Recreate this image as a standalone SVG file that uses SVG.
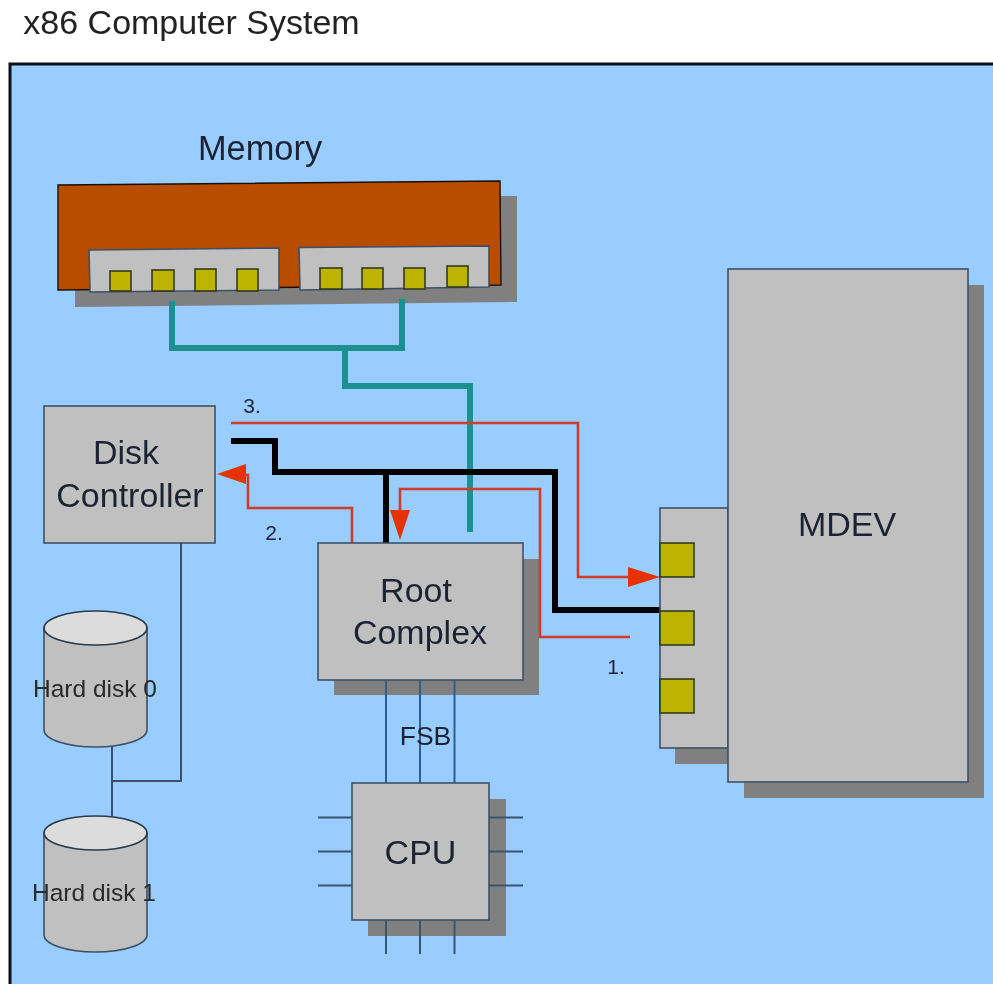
<svg xmlns="http://www.w3.org/2000/svg" width="993" height="984" viewBox="0 0 993 984">
<defs>
<style>
text{font-family:"Liberation Sans",Arial,sans-serif;fill:#1c2433;text-anchor:middle}
.box{fill:#c0c0c0;stroke:#3c5066;stroke-width:1.6}
.sh{fill:#808080}
.pad{fill:#bcb400;stroke:#333a20;stroke-width:1.6}
.wire{fill:none;stroke:#2f5f8f;stroke-width:2}
.wd{fill:none;stroke:#3a5068;stroke-width:2}
.red{fill:none;stroke:#d03c28;stroke-width:2.6}
.arr{fill:#e63300}
.blk{fill:none;stroke:#000;stroke-width:6}
.teal{fill:none;stroke:#1f9090;stroke-width:6}
</style>
<filter id="soft" filterUnits="userSpaceOnUse" x="0" y="0" width="993" height="984"><feGaussianBlur stdDeviation="0.5"/></filter>
</defs>
<rect width="993" height="984" fill="#fff"/>
<g filter="url(#soft)">
<text id="title" x="191.500" y="34" font-size="34" style="fill:#222">x86 Computer System</text>
<path d="M993 64H10V984H993Z" fill="#99ccff"/>
<path d="M993 64H10V984" fill="none" stroke="#0a0f18" stroke-width="3"/>
<g id="shadows">
<path class="sh" d="M75 196H517V302L75 307Z"/>
<rect class="sh" x="744" y="285" width="240" height="513"/>
<rect class="sh" x="675" y="524" width="70" height="240"/>
<rect class="sh" x="334" y="559" width="205" height="136"/>
<rect class="sh" x="368" y="799" width="138" height="137"/>
</g>
<g id="connectors">
<path class="teal" d="M172 301V348H402V299"/>
<path class="teal" d="M345 348V386H470V532"/>
<path class="wd" d="M181 543V781H112M112 746V816"/>
<path class="blk" d="M231 441H275V472H555V610H660M386 472V544"/>
<path class="red" d="M231 423H578V577H630"/>
<path class="red" d="M630 637H540V489H400V515"/>
<path class="red" d="M352 543V508H248V475H243"/>
<polygon class="arr" points="660,577 628,567 628,587"/>
<polygon class="arr" points="400,540 390,510 410,510"/>
<polygon class="arr" points="217,474 246,464 246,484"/>
<path class="wire" d="M386 680V783M420 680V783M454.500 680V783"/>
</g>
<g id="memory">
<text x="260" y="160" font-size="34.400">Memory</text>
<path d="M58 185L500 181L501 285L58 290Z" fill="#b84d00" stroke="#1a1000" stroke-width="1.4"/>
<path class="box" d="M89 250L279 248L279 290L90 292Z"/>
<path class="box" d="M299 247.500L489 246L489 287L300 290Z"/>
<rect class="pad" x="110" y="271" width="21" height="20"/>
<rect class="pad" x="152" y="270" width="22" height="21"/>
<rect class="pad" x="195" y="269" width="21" height="22"/>
<rect class="pad" x="237" y="269" width="21" height="22"/>
<rect class="pad" x="320" y="268" width="22" height="21"/>
<rect class="pad" x="362" y="268" width="21" height="21"/>
<rect class="pad" x="404" y="268" width="21" height="21"/>
<rect class="pad" x="447" y="266" width="21" height="21"/>
</g>
<g id="mdev">
<rect class="box" x="660" y="508" width="68" height="240"/>
<rect class="box" x="728" y="269" width="240" height="513"/>
<text x="847" y="536" font-size="34">MDEV</text>
<rect class="pad" x="660" y="543" width="34" height="34"/>
<rect class="pad" x="660" y="611" width="34" height="34"/>
<rect class="pad" x="660" y="679" width="34" height="34"/>
</g>
<g id="disk-controller">
<rect class="box" x="44" y="406" width="171" height="137"/>
<text x="126" y="464" font-size="34">Disk</text>
<text x="130" y="507" font-size="34">Controller</text>
</g>
<g id="root-complex">
<rect class="box" x="318" y="543" width="205" height="137"/>
<text x="416" y="602" font-size="34">Root</text>
<text x="420" y="644" font-size="34">Complex</text>
</g>
<g id="hard-disk-0">
<path class="box" d="M44 628V730A51.500 17 0 0 0 147 730V628Z"/>
<ellipse cx="95.500" cy="628" rx="51.500" ry="17" fill="#dcdcdc" stroke="#2a3a4a" stroke-width="1.600"/>
<text x="95" y="697" font-size="24.500" style="fill:#2a2a2a">Hard disk 0</text>
</g>
<g id="hard-disk-1">
<path class="box" d="M44 833V935A51.500 17 0 0 0 147 935V833Z"/>
<ellipse cx="95.500" cy="833" rx="51.500" ry="17" fill="#dcdcdc" stroke="#2a3a4a" stroke-width="1.600"/>
<text x="94" y="901" font-size="24.500" style="fill:#2a2a2a">Hard disk 1</text>
</g>
<g id="cpu">
<path class="wire" d="M318 817.500H352M318 851.500H352M318 885.500H352M489 817.500H523M489 851.500H523M489 885.500H523M386 920V954M420 920V954M454.500 920V954" style="stroke:#38556f"/>
<rect class="box" x="352" y="783" width="137" height="137"/>
<text x="420.500" y="864" font-size="34">CPU</text>
</g>
<text id="fsb" x="425.500" y="745" font-size="26.500">FSB</text>
<text id="l1" x="616" y="674" font-size="21">1.</text>
<text id="l2" x="274" y="540" font-size="21">2.</text>
<text id="l3" x="252" y="413" font-size="21">3.</text>
</g>
</svg>
